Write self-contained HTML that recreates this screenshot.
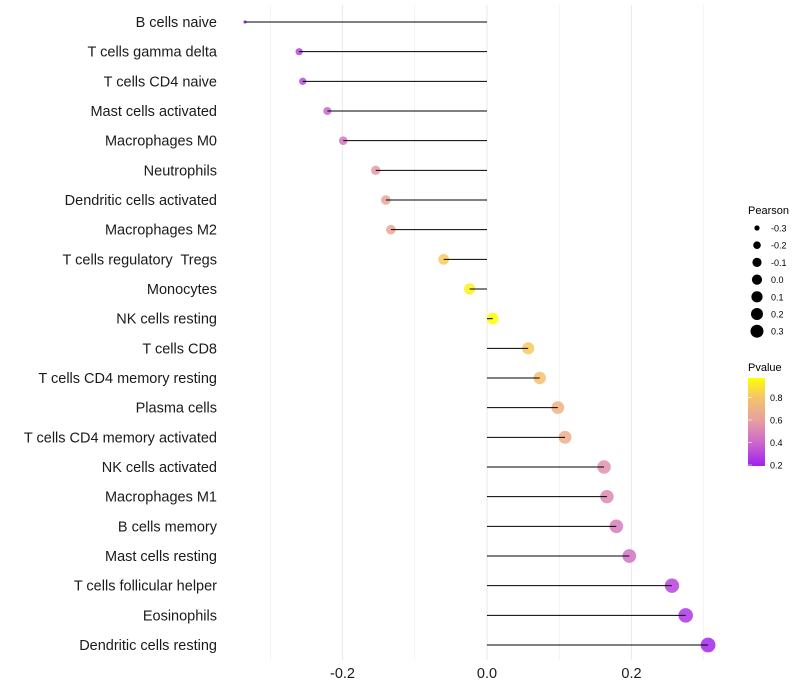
<!DOCTYPE html>
<html><head><meta charset="utf-8"><style>
body{margin:0;background:#fff;}
svg{display:block;font-family:"Liberation Sans",Arial,sans-serif;}
text{white-space:pre;}
</style></head><body>
<svg id="chart" width="800" height="700">
<defs><linearGradient id="pgrad" x1="0" y1="1" x2="0" y2="0">
<stop offset="0" stop-color="#a020f0"/><stop offset="0.26" stop-color="#cc66cc"/><stop offset="0.52" stop-color="#e7a0a0"/><stop offset="0.78" stop-color="#f5c46a"/><stop offset="1" stop-color="#ffff00"/>
</linearGradient></defs>
<g id="grid"></g><g id="dots"></g><g id="marks"></g><g id="labels"></g><g id="legend"></g>
</svg>
<script>
const categories=["B cells naive","T cells gamma delta","T cells CD4 naive","Mast cells activated","Macrophages M0","Neutrophils","Dendritic cells activated","Macrophages M2","T cells regulatory  Tregs","Monocytes","NK cells resting","T cells CD8","T cells CD4 memory resting","Plasma cells","T cells CD4 memory activated","NK cells activated","Macrophages M1","B cells memory","Mast cells resting","T cells follicular helper","Eosinophils","Dendritic cells resting"];
const pearson=[-0.335,-0.26,-0.255,-0.221,-0.199,-0.154,-0.14,-0.133,-0.06,-0.024,0.008,0.057,0.073,0.098,0.108,0.162,0.166,0.179,0.197,0.256,0.275,0.306];
const pvalue=[0.2,0.3,0.32,0.4,0.45,0.58,0.62,0.64,0.82,0.93,0.97,0.82,0.78,0.7,0.68,0.55,0.52,0.48,0.44,0.3,0.26,0.22];
const xTicks=[-0.2,0,0.2];
const xTickLabels=["-0.2","0.0","0.2"];
const gridVals=[-0.3,-0.2,-0.1,0,0.1,0.2,0.3];
const sizeLegendVals=[-0.3,-0.2,-0.1,0.0,0.1,0.2,0.3];
const sizeLegendLabels=["-0.3","-0.2","-0.1","0.0","0.1","0.2","0.3"];
const pLegendVals=[0.8,0.6,0.4,0.2];
const pLegendLabels=["0.8","0.6","0.4","0.2"];

const NS="http://www.w3.org/2000/svg";
const x=v=>487+v*722.5;
const y=i=>22+i*29.667;
const vmin=Math.min(...pearson),vmax=Math.max(...pearson);
const r=v=>{const t=Math.max(0,Math.min(1,(v-vmin)/(vmax-vmin)));return 1.6+5.8*Math.sqrt(t);};
const stops=[[0.2,[160,32,240]],[0.4,[204,102,204]],[0.6,[231,160,160]],[0.8,[245,196,106]],[0.97,[255,255,0]]];
function col(p){p=Math.max(0.2,Math.min(0.97,p));for(let k=0;k<stops.length-1;k++){const a=stops[k],b=stops[k+1];if(p<=b[0]){const t=(p-a[0])/(b[0]-a[0]);return"rgb("+a[1].map((c,j)=>Math.round(c+(b[1][j]-c)*t)).join(",")+")";}}return"rgb(255,255,0)";}
function mk(tag,attrs,parent,text){const e=document.createElementNS(NS,tag);for(const k in attrs)e.setAttribute(k,attrs[k]);if(text!==undefined)e.textContent=text;parent.appendChild(e);return e;}
const grid=document.getElementById('grid'),dots=document.getElementById('dots'),marks=document.getElementById('marks'),labels=document.getElementById('labels'),legend=document.getElementById('legend');
gridVals.forEach(v=>{const l=mk('line',{x1:x(v),x2:x(v),y1:5,y2:660,stroke:'#ebebeb','stroke-width':Math.round(v*10)%2===0?1.1:0.6},grid);

});
categories.forEach((c,i)=>{
 const d=mk('circle',{cx:x(pearson[i]),cy:y(i),r:r(pearson[i]),fill:col(pvalue[i]),'fill-opacity':0.85},dots);
 
 
 const s=mk('line',{x1:x(0),x2:x(pearson[i]),y1:y(i),y2:y(i),stroke:'#000','stroke-width':1},marks);
 
 
 const t=mk('text',{x:217,y:y(i)+5,'text-anchor':'end','font-size':14.5,fill:'#1a1a1a'},labels,c);
 
 
});
xTicks.forEach((v,i)=>{const t=mk('text',{x:x(v),y:678,'text-anchor':'middle','font-size':14.5,fill:'#1a1a1a'},labels,xTickLabels[i]);

});
const lt=mk('text',{x:748,y:214,'font-size':11},legend,'Pearson');


const legR=[2.6,3.8,4.6,5.1,5.6,6.0,6.5];
sizeLegendVals.forEach((v,i)=>{const cy=228+i*17.2;
 const c=mk('circle',{cx:757,cy:cy,r:legR[i],fill:'#000'},legend);
 
 
 const t=mk('text',{x:771,y:cy+3.5,'font-size':9},legend,sizeLegendLabels[i]);
 
 });
const pt=mk('text',{x:748,y:371,'font-size':11},legend,'Pvalue');


const bar=mk('rect',{x:748,y:378,width:17,height:88,fill:'url(#pgrad)'},legend);


const py=p=>465-(p-0.2)*112.5;
pLegendVals.forEach((p,i)=>{
 const tk=mk('line',{x1:748,x2:752,y1:py(p),y2:py(p),stroke:'#fff','stroke-width':0.6},legend);
 
 
 const t=mk('text',{x:770,y:py(p)+3.5,'font-size':9},legend,pLegendLabels[i]);
 
 });
</script>
</body></html>
